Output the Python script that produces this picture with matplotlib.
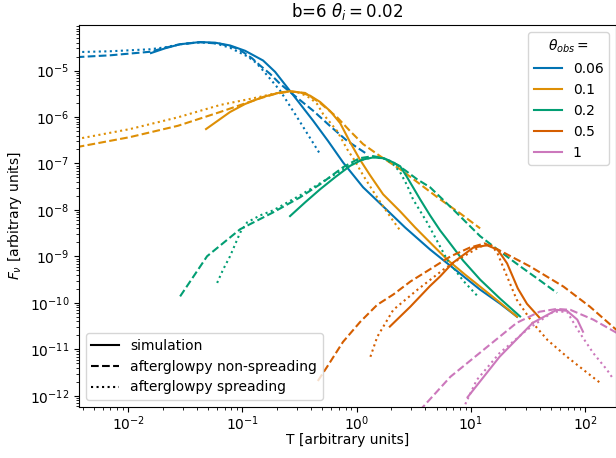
#!/usr/bin/env python3
"""Light curves: simulation vs afterglowpy, b=6, theta_i=0.02"""

import matplotlib

matplotlib.use("Agg")
import matplotlib.pyplot as plt
import numpy as np
from matplotlib.lines import Line2D

# log10 values (T and F_nu in arbitrary units)
theta_obs = ["0.06", "0.1", "0.2", "0.5", "1"]
colors = ["#0173B2", "#DE8F05", "#029E73", "#D55E00", "#CC78BC"]

# theta_obs = 0.06
lt_sim_006 = [-1.80, -1.676, -1.545, -1.37, -1.239, -1.108, -0.976, -0.819, -0.714, -0.609, -0.495,
              -0.381, -0.25, -0.119, 0.056, 0.231, 0.423, 0.642, 0.861, 1.08, 1.255, 1.403]
lf_sim_006 = [-4.624, -4.521, -4.434, -4.387, -4.40, -4.46, -4.575, -4.784, -5.028, -5.359, -5.719,
              -6.08, -6.518, -6.978, -7.512, -7.922, -8.376, -8.851, -9.283, -9.715, -10.017, -10.298]
lt_ns_006 = [-2.45, -2.157, -1.808, -1.676, -1.545, -1.37, -1.195, -1.064, -0.994, -0.915, -0.845,
             -0.758, -0.67, -0.53, -0.381, -0.233, -0.084, 0.091]
lf_ns_006 = [-4.711, -4.672, -4.596, -4.51, -4.434, -4.391, -4.423, -4.51, -4.603, -4.737, -4.892,
             -5.071, -5.287, -5.568, -5.864, -6.194, -6.512, -6.799]
lt_sp_006 = [-2.45, -2.157, -1.808, -1.676, -1.545, -1.37, -1.239, -1.108, -1.02, -0.95, -0.88,
             -0.819, -0.67, -0.521, -0.32]
lf_sp_006 = [-4.603, -4.585, -4.542, -4.50, -4.434, -4.391, -4.413, -4.51, -4.618, -4.704, -4.834,
             -5.0, -5.432, -6.006, -6.799]

# theta_obs = 0.1
lt_sim_01 = [-1.318, -1.108, -0.976, -0.819, -0.67, -0.583, -0.495, -0.408, -0.32, -0.233, -0.145,
             -0.058, 0.026, 0.117, 0.231, 0.38, 0.511, 0.642, 0.791, 0.948, 1.08, 1.255, 1.403]
lf_sim_01 = [-6.259, -5.892, -5.719, -5.568, -5.471, -5.445, -5.471, -5.54, -5.676, -5.87, -6.13,
             -6.54, -6.907, -7.253, -7.663, -8.03, -8.376, -8.70, -9.067, -9.391, -9.65, -9.996, -10.298]
lt_ns_01 = [-2.45, -1.983, -1.563, -1.195, -0.863, -0.714, -0.583, -0.451, -0.32, -0.171, -0.058,
            0.056, 0.205, 0.38, 0.555, 0.73, 0.905, 1.08]
lf_ns_01 = [-6.648, -6.432, -6.188, -5.892, -5.611, -5.503, -5.449, -5.482, -5.698, -6.006, -6.302,
            -6.583, -6.842, -7.123, -7.447, -7.771, -8.073, -8.397]
lt_sp_01 = [-2.45, -1.983, -1.563, -1.195, -0.863, -0.714, -0.583, -0.495, -0.408, -0.346, -0.294,
            -0.171, -0.084, -0.014, 0.056, 0.144, 0.231, 0.31, 0.38]
lf_sp_01 = [-6.475, -6.259, -6.006, -5.741, -5.575, -5.492, -5.449, -5.482, -5.59, -5.719, -5.935,
            -6.302, -6.691, -6.95, -7.253, -7.598, -7.922, -8.203, -8.441]

# theta_obs = 0.2
lt_sim_02 = [-0.583, -0.451, -0.32, -0.189, -0.058, 0.047, 0.144, 0.231, 0.292, 0.38, 0.441, 0.493,
             0.555, 0.642, 0.73, 0.791, 0.931, 1.08, 1.255, 1.43]
lf_sim_02 = [-8.132, -7.836, -7.555, -7.296, -7.052, -6.918, -6.87, -6.886, -6.944, -7.058, -7.296,
             -7.512, -7.771, -8.117, -8.441, -8.635, -9.089, -9.499, -9.909, -10.292]
lt_ns_02 = [-1.545, -1.309, -1.02, -0.731, -0.495, -0.32, -0.119, -0.04, 0.026, 0.144, 0.231, 0.318,
            0.423, 0.528, 0.642, 0.861, 1.08, 1.255, 1.43, 1.605, 1.753]
lf_ns_02 = [-9.86, -8.996, -8.415, -8.052, -7.728, -7.447, -7.08, -6.972, -6.886, -6.842, -6.886,
            -6.972, -7.145, -7.339, -7.512, -8.03, -8.564, -8.894, -9.212, -9.52, -9.786]
lt_sp_02 = [-1.221, -1.169, -1.108, -1.02, -0.959, -0.845, -0.731, -0.495, -0.233, 0.0, 0.144, 0.248,
            0.318, 0.38, 0.441, 0.493, 0.616, 0.791, 0.931, 1.062]
lf_sp_02 = [-9.57, -9.283, -8.996, -8.49, -8.268, -8.117, -8.009, -7.685, -7.296, -6.95, -6.864,
            -6.897, -7.015, -7.188, -7.469, -7.771, -8.268, -9.067, -9.52, -9.866]

# theta_obs = 0.5
lt_sim_05 = [0.29, 0.47, 0.64, 0.73, 0.84, 1.02, 1.14, 1.23, 1.272, 1.316, 1.41, 1.49, 1.60]
lf_sim_05 = [-10.51, -10.08, -9.64, -9.43, -9.14, -8.81, -8.76, -8.85, -8.99, -9.15, -9.69, -10.02, -10.32]
lt_ns_05 = [-0.34, -0.26, -0.12, 0.03, 0.18, 0.32, 0.47, 0.62, 0.82, 0.99, 1.12, 1.25, 1.52, 1.81, 2.04, 2.30]
lf_ns_05 = [-11.68, -11.38, -10.84, -10.41, -10.04, -9.82, -9.54, -9.31, -9.00, -8.81, -8.72, -8.87,
            -9.22, -9.65, -10.08, -10.64]
lt_sp_05 = [0.12, 0.18, 0.32, 0.53, 0.76, 0.90, 1.08, 1.17, 1.23, 1.28, 1.40, 1.54, 1.67, 1.84, 2.02, 2.13]
lf_sp_05 = [-11.16, -10.73, -10.15, -9.72, -9.28, -9.05, -8.79, -8.74, -8.92, -9.22, -9.93, -10.43,
            -10.80, -11.16, -11.51, -11.72]

# theta_obs = 1
lt_sim_1 = [0.97, 1.25, 1.54, 1.75, 1.84, 1.93, 1.98]
lf_sim_1 = [-12.03, -11.16, -10.43, -10.15, -10.17, -10.36, -10.62]
lt_ns_1 = [0.55, 0.82, 1.11, 1.40, 1.60, 1.75, 1.87, 2.07, 2.30]
lf_ns_1 = [-12.32, -11.59, -11.01, -10.43, -10.19, -10.13, -10.15, -10.36, -10.68]
lt_sp_1 = [0.95, 1.05, 1.25, 1.49, 1.72, 1.84, 1.95, 2.07, 2.19, 2.24]
lf_sp_1 = [-12.18, -11.66, -11.08, -10.58, -10.19, -10.19, -10.64, -11.08, -11.44, -11.62]

sim_t = [lt_sim_006, lt_sim_01, lt_sim_02, lt_sim_05, lt_sim_1]
sim_f = [lf_sim_006, lf_sim_01, lf_sim_02, lf_sim_05, lf_sim_1]
ns_t = [lt_ns_006, lt_ns_01, lt_ns_02, lt_ns_05, lt_ns_1]
ns_f = [lf_ns_006, lf_ns_01, lf_ns_02, lf_ns_05, lf_ns_1]
sp_t = [lt_sp_006, lt_sp_01, lt_sp_02, lt_sp_05, lt_sp_1]
sp_f = [lf_sp_006, lf_sp_01, lf_sp_02, lf_sp_05, lf_sp_1]


def main():
    fig = plt.figure(figsize=(6.16, 4.58), dpi=100)
    ax = fig.add_axes([0.1282, 0.1114, 0.872, 0.834])

    handles = []
    for i, lab in enumerate(theta_obs):
        c = colors[i]
        (h,) = ax.plot(10 ** np.array(sim_t[i]), 10 ** np.array(sim_f[i]),
                       color=c, ls="-", label=lab)
        ax.plot(10 ** np.array(ns_t[i]), 10 ** np.array(ns_f[i]), color=c, ls="--")
        ax.plot(10 ** np.array(sp_t[i]), 10 ** np.array(sp_f[i]), color=c, ls=":")
        handles.append(h)

    ax.set_xscale("log")
    ax.set_yscale("log")
    ax.set_xlim(10 ** -2.43, 10 ** 2.27)
    ax.set_ylim(10 ** -12.24, 10 ** -4.02)
    ax.tick_params(axis="x", which="major", pad=1.5)
    ax.set_title(r"b=6 $\theta_i=0.02$")
    ax.set_xlabel("T [arbitrary units]", labelpad=0)
    ax.set_ylabel(r"$F_\nu$ [arbitrary units]")

    leg1 = ax.legend(handles=handles, title=r"$\theta_{obs}=$", loc="upper right")
    ax.add_artist(leg1)
    style_handles = [
        Line2D([], [], color="k", ls="-", label="simulation"),
        Line2D([], [], color="k", ls="--", label="afterglowpy non-spreading"),
        Line2D([], [], color="k", ls=":", label="afterglowpy spreading"),
    ]
    ax.legend(handles=style_handles, loc="lower left")

    fig.savefig("out.png", dpi=100)


if __name__ == "__main__":
    main()
